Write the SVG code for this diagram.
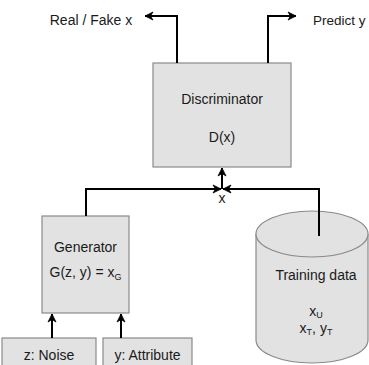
<svg xmlns="http://www.w3.org/2000/svg" width="369" height="365" viewBox="0 0 369 365">
<defs>
<marker id="ah" markerUnits="userSpaceOnUse" markerWidth="10" markerHeight="10" viewBox="0 0 10 10" refX="9" refY="5" orient="auto">
<path d="M1,1 L9,5 L1,9 L3.5,5 z" fill="#000" stroke="#000" stroke-width="0.8" stroke-linejoin="round"/>
</marker>
<style>
.box{fill:#e2e2e2;stroke:#8a8a8a;stroke-width:1.2}
.t{font-family:"Liberation Sans",Arial,sans-serif;font-size:14px;fill:#1a1a1a;text-anchor:middle}
.s{font-size:9px}
.c{fill:none;stroke:#000;stroke-width:2;marker-end:url(#ah)}
</style>
</defs>
<rect width="369" height="365" fill="#fff"/>
<g id="discriminator">
<rect class="box" x="153" y="63" width="138" height="104"/>
<text class="t" x="222" y="104">Discriminator</text>
<text class="t" x="222" y="142">D(x)</text>
</g>
<g id="generator">
<rect class="box" x="42" y="216" width="87" height="97"/>
<text class="t" x="85.5" y="252">Generator</text>
<text class="t" x="85.5" y="277">G(z, y) = x<tspan class="s" dy="3">G</tspan></text>
</g>
<g id="noise">
<rect class="box" x="2" y="338" width="94" height="40"/>
<text class="t" x="49" y="360">z: Noise</text>
</g>
<g id="attribute">
<rect class="box" x="103" y="338" width="89" height="40"/>
<text class="t" x="147.5" y="360">y: Attribute</text>
</g>
<g id="training">
<path class="box" d="M256,234 L256,340 A56,23 0 0 0 368,340 L368,234"/>
<ellipse class="box" cx="312" cy="234" rx="56" ry="23"/>
<text class="t" x="316" y="280">Training data</text>
<text class="t" x="316" y="316">x<tspan class="s" dy="2">U</tspan></text>
<text class="t" x="316" y="333">x<tspan class="s" dy="2">T</tspan><tspan dy="-2">, y</tspan><tspan class="s" dy="2">T</tspan></text>
</g>
<g id="labels">
<text class="t" x="91" y="25">Real / Fake x</text>
<text class="t" x="313" y="25" style="text-anchor:start;font-size:13.5px">Predict y</text>
<text class="t" x="222" y="203">x</text>
</g>
<g id="connectors">
<path class="c" d="M177,63 L177,16 L145,16"/>
<path class="c" d="M268,63 L268,16 L296,16"/>
<path class="c" d="M222,189 L222,168"/>
<path class="c" d="M86,216 L86,189 L221,189"/>
<path class="c" d="M319,236 L319,189 L223,189"/>
<path class="c" d="M52,338 L52,314"/>
<path class="c" d="M121,338 L121,314"/>
</g>
</svg>
